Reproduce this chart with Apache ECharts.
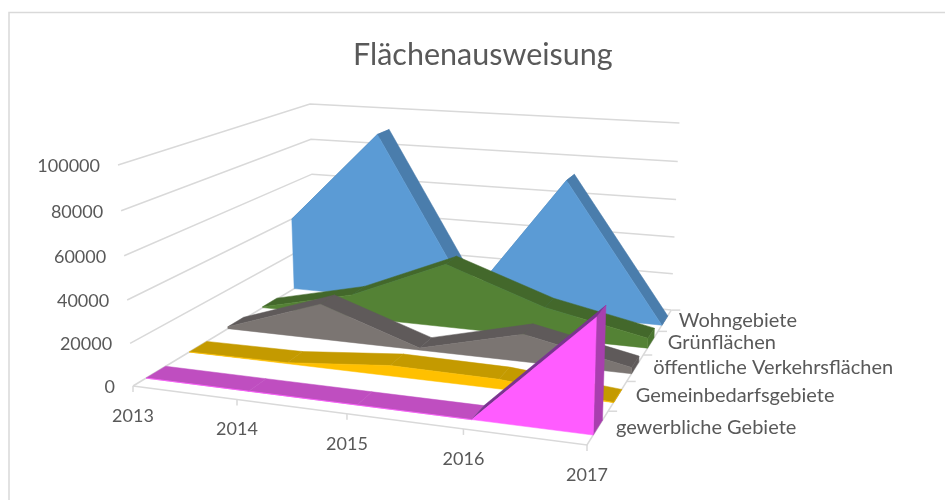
<!DOCTYPE html>
<html>
<head>
    <meta charset="utf-8">
    <script src="https://cdnjs.cloudflare.com/ajax/libs/echarts/6.0.0/echarts.min.js"></script>
    <style>html, body { margin: 0; background: #fff; }</style>
</head>
<body>
<div id="chart" style="width: 945px; height: 500px;"></div>
<script type="text/javascript">
    // Data, front row first
    var years = ['2013', '2014', '2015', '2016', '2017'];
    var valueTicks = [0, 20000, 40000, 60000, 80000, 100000];
    var seriesNames = ['gewerbliche Gebiete', 'Gemeinbedarfsgebiete', 'öffentliche Verkehrsflächen', 'Grünflächen', 'Wohngebiete'];
    var gewerbliche = [0, 0, 0, 0, 50000];
    var gemeinbedarf = [0, 500, 5000, 4500, 0];
    var verkehr = [1000, 18000, 1000, 13500, 3000];
    var gruen = [500, 12000, 33000, 15500, 5000];
    var wohn = [40000, 90000, 5000, 72000, 0];
    var allValues = [gewerbliche, gemeinbedarf, verkehr, gruen, wohn];

    // Colours per row
    var frontColors = ['#ff5cff', '#ffc000', '#7b7572', '#548235', '#5b9bd5'];
    var bandColors = ['#bf4ec0', '#c49a00', '#5f5a5a', '#43682b', '#4a7dac'];
    var riseColors = ['#7a3490', '#c49a00', '#5f5a5a', '#43682b', '#4a7dac'];
    var capColors = ['#a83fae', '#e0aa00', '#5f5a5a', '#4a7530', '#4a7dac'];
    var labelGaps = [18, 18, 18, 17, 14];

    var textColor = '#595959';
    var lineColor = '#d9d9d9';
    var fontName = 'Lato';

    // Perspective of the box: the corners on screen and how w changes along each axis
    var O = [133, 386], X = [587, 445], Y = [118, 165], Z = [315, 276];
    var wx = -0.1086, wy = -0.044, wz = 0.3;

    function project(x, y, z) {
        var w = 1 + wx * x + wy * y + wz * z;
        var px = O[0] + x * (X[0] * (1 + wx) - O[0]) + y * (Y[0] * (1 + wy) - O[0]) + z * (Z[0] * (1 + wz) - O[0]);
        var py = O[1] + x * (X[1] * (1 + wx) - O[1]) + y * (Y[1] * (1 + wy) - O[1]) + z * (Z[1] * (1 + wz) - O[1]);
        return [px / w, py / w];
    }

    // goes through the hidden axes, so the scale turns data into 0..1 before projecting
    function toScreen(api, params, j, v, z) {
        var cs = params.coordSys;
        var c = api.coord([j, v]);
        return project((c[0] - cs.x) / cs.width, 1 - (c[1] - cs.y) / cs.height, z);
    }

    function poly(points, color) {
        return {
            type: 'polygon',
            shape: { points: points },
            style: { fill: color, stroke: color, lineWidth: 0.5 }
        };
    }

    function line(points) {
        return {
            type: 'polyline',
            shape: { points: points },
            style: { fill: null, stroke: lineColor, lineWidth: 1.5 }
        };
    }

    function label(text, pos, size, align) {
        return {
            type: 'text',
            style: {
                text: text, x: pos[0], y: pos[1], fill: textColor,
                fontFamily: fontName, fontSize: size, align: align, verticalAlign: 'middle'
            }
        };
    }

    function renderValueTick(params, api) {
        var v = api.value(1);
        var front = toScreen(api, params, 0, v, 0);
        var back = toScreen(api, params, 0, v, 1);
        var right = toScreen(api, params, years.length - 1, v, 1);
        var children = [line([front, back, right])];
        children.push(label(String(v), [front[0] - 18, front[1] + 1], 18, 'right'));
        return { type: 'group', children: children };
    }

    function renderYearTick(params, api) {
        var j = api.value(0);
        var p = toScreen(api, params, j, 0, 0);
        var children = [line([p, [p[0], p[1] + 6]])];
        children.push(label(years[j], [p[0], p[1] + 30], 18, 'center'));
        if (j === years.length - 1) {
            children.push(line([toScreen(api, params, 0, 0, 0), p, toScreen(api, params, j, 0, 1)]));
            for (var k = 1; k <= seriesNames.length; k++) {
                var t = toScreen(api, params, j, 0, k / seriesNames.length);
                children.push(line([t, [t[0] + 9, t[1]]]));
            }
            seriesNames.forEach(function (name, i) {
                var m = toScreen(api, params, j, 0, (i + 0.5) / seriesNames.length);
                children.push(label(name, [m[0] + labelGaps[i], m[1]], 20, 'left'));
            });
        }
        return { type: 'group', children: children };
    }

    // one row of the 3d area: top band, front face, end cap
    function makeRibbon(i) {
        var vals = allValues[i];
        var z0 = (i + 0.28) / seriesNames.length;
        var z1 = (i + 0.72) / seriesNames.length;
        return function (params, api) {
            if (params.dataIndex !== 0) return;
            var children = [];
            var last = vals.length - 1;
            for (var j = 0; j < last; j++) {
                children.push(poly([
                    toScreen(api, params, j, vals[j], z0),
                    toScreen(api, params, j + 1, vals[j + 1], z0),
                    toScreen(api, params, j + 1, vals[j + 1], z1),
                    toScreen(api, params, j, vals[j], z1)
                ], vals[j + 1] > vals[j] ? riseColors[i] : bandColors[i]));
            }
            children.push(poly([
                toScreen(api, params, last, 0, z0),
                toScreen(api, params, last, 0, z1),
                toScreen(api, params, last, vals[last], z1),
                toScreen(api, params, last, vals[last], z0)
            ], capColors[i]));
            var face = [];
            vals.forEach(function (v, j) { face.push(toScreen(api, params, j, v, z0)); });
            face.push(toScreen(api, params, last, 0, z0));
            face.push(toScreen(api, params, 0, 0, z0));
            children.push(poly(face, frontColors[i]));
            return { type: 'group', children: children };
        };
    }

    var series = [
        {
            type: 'custom', name: 'ticks', silent: true, clip: false,
            renderItem: renderValueTick,
            data: valueTicks.map(function (v) { return [0, v]; })
        },
        {
            type: 'custom', name: 'years', silent: true, clip: false,
            renderItem: renderYearTick,
            data: years.map(function (y, j) { return [j, 0]; })
        }
    ];
    // back row gets painted first
    for (var i = seriesNames.length - 1; i >= 0; i--) {
        series.push({
            type: 'custom', name: seriesNames[i], silent: true, clip: false,
            renderItem: makeRibbon(i),
            data: allValues[i].map(function (v, j) { return [j, v]; })
        });
    }

    var chart = echarts.init(document.getElementById('chart'), null, { renderer: 'canvas' });
    chart.setOption({
        animation: false,
        backgroundColor: '#ffffff',
        title: {
            text: 'Flächenausweisung', left: 348, top: 35,
            textStyle: { color: textColor, fontFamily: fontName, fontSize: 30.5, fontWeight: 'normal' }
        },
        grid: { left: 0, right: 0, top: 0, bottom: 0 },
        xAxis: { type: 'category', data: years, boundaryGap: false, show: false },
        yAxis: { type: 'value', min: 0, max: 100000, interval: 20000, show: false },
        graphic: [{
            type: 'polyline',
            silent: true,
            shape: { points: [[9, 500], [9, 12.5], [945, 12.5]] },
            style: { fill: null, stroke: lineColor, lineWidth: 1.5 }
        }],
        series: series
    });
</script>
</body>
</html>
